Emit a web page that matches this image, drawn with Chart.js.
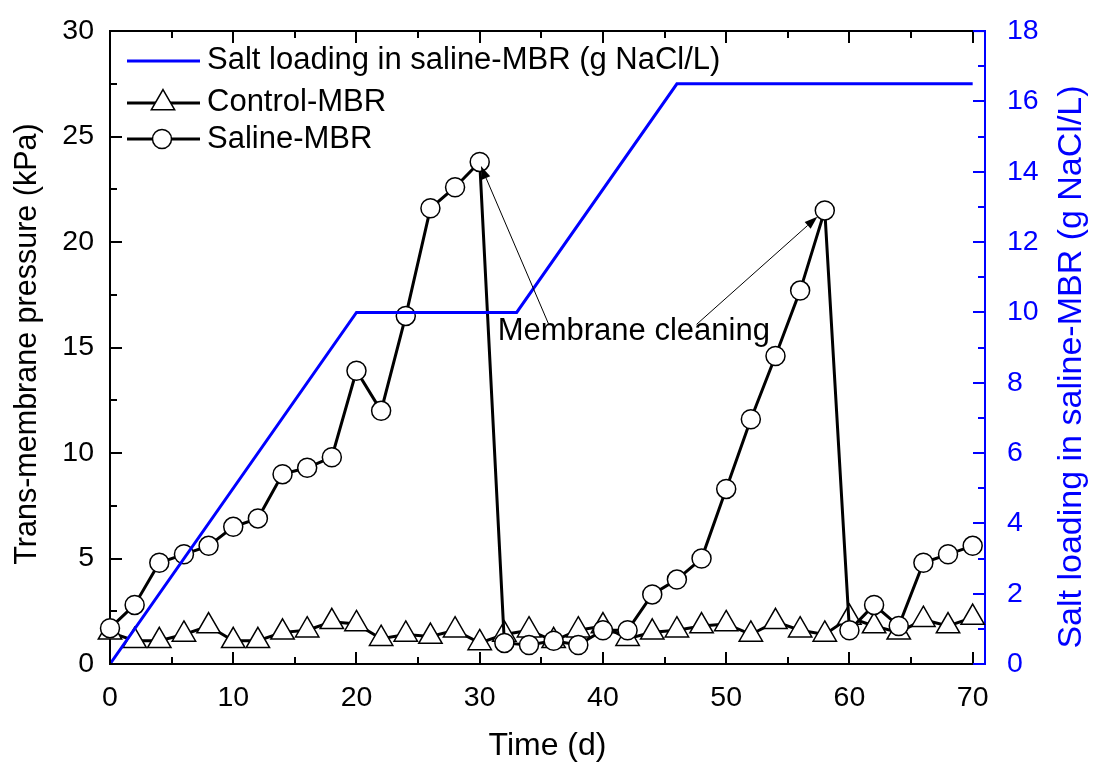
<!DOCTYPE html>
<html>
<head>
<meta charset="utf-8">
<script src="https://cdn.jsdelivr.net/npm/chart.js@4.4.1/dist/chart.umd.min.js"></script>
<style>
  html, body { margin: 0; padding: 0; background: #ffffff; }
  #wrap { width: 1097px; height: 776px; }
</style>
</head>
<body>
<div id="wrap"><canvas id="tmp" width="1097" height="776"></canvas></div>
<script>
// Sampling days (every 2 d)
const days = [0, 2, 4, 6, 8, 10, 12, 14, 16, 18, 20, 22, 24, 26, 28, 30, 32, 34,
              36, 38, 40, 42, 44, 46, 48, 50, 52, 54, 56, 58, 60, 62, 64, 66, 68, 70];

// Trans-membrane pressure, kPa
const controlTMP = [1.5, 1.1, 1.1, 1.4, 1.8, 1.1, 1.1, 1.5, 1.6, 2.0, 1.9, 1.2, 1.4, 1.3, 1.6, 1.0, 1.4, 1.6,
                    1.1, 1.6, 1.8, 1.2, 1.5, 1.6, 1.8, 1.9, 1.4, 2.0, 1.6, 1.4, 2.2, 1.8, 1.5, 2.1, 1.8, 2.2];
const salineTMP  = [1.7, 2.8, 4.8, 5.2, 5.6, 6.5, 6.9, 9.0, 9.3, 9.8, 13.9, 12.0, 16.5, 21.6, 22.6, 23.8, 1.0, 0.9,
                    1.1, 0.9, 1.6, 1.6, 3.3, 4.0, 5.0, 8.3, 11.6, 14.6, 17.7, 21.5, 1.6, 2.8, 1.8, 4.8, 5.2, 5.6];

// Salt loading schedule, g NaCl/L
const saltDays   = [0, 20, 33, 46, 70];
const saltLevels = [0, 10, 10, 16.5, 16.5];

// Axis tick settings
const xTickStep = 10;
const yTickStep = 5;
const y1TickStep = 2;

// Membrane cleaning note: label anchor and arrows [fromX, fromY, toX, toY] in data units
const cleaningLabel = { text: 'Membrane cleaning', x: 42.5, y: 15.35 };
const cleaningArrows = [
  [35.6, 16.1, 30.1, 23.6],
  [47.6, 16.1, 57.4, 21.2]
];

const FAMILY = '"Liberation Sans", Arial, sans-serif';
const BLUE = '#0000ff';

function drawTriangle(ctx, x, y, r) {
  ctx.beginPath();
  ctx.moveTo(x, y - r);
  ctx.lineTo(x + r * Math.sin(2 * Math.PI / 3), y + r * 0.5);
  ctx.lineTo(x - r * Math.sin(2 * Math.PI / 3), y + r * 0.5);
  ctx.closePath();
  ctx.fillStyle = '#fff';
  ctx.fill();
  ctx.stroke();
}

const decorations = {
  id: 'decorations',
  afterDraw(chart) {
    const { ctx, chartArea: a, scales } = chart;
    const xs = scales.x, ys = scales.y, y1s = scales.y1;
    ctx.save();

    // top frame line
    ctx.strokeStyle = '#000';
    ctx.lineWidth = 2;
    ctx.beginPath();
    ctx.moveTo(a.left, a.top);
    ctx.lineTo(a.right, a.top);
    ctx.stroke();

    // inward tick marks
    ctx.lineWidth = 2;
    for (let v = 0; v <= 70; v += 5) {
      const px = Math.round(xs.getPixelForValue(v));
      const len = v % 10 === 0 ? 12 : 7;
      ctx.beginPath();
      ctx.moveTo(px, a.bottom); ctx.lineTo(px, a.bottom - len);
      ctx.moveTo(px, a.top); ctx.lineTo(px, a.top + len);
      ctx.stroke();
    }
    for (let v = 0; v <= 30; v += 2.5) {
      const py = Math.round(ys.getPixelForValue(v));
      const len = v % 5 === 0 ? 12 : 7;
      ctx.beginPath();
      ctx.moveTo(a.left, py); ctx.lineTo(a.left + len, py);
      ctx.stroke();
    }
    ctx.strokeStyle = BLUE;
    for (let v = 0; v <= 18; v += 1) {
      const py = Math.round(y1s.getPixelForValue(v));
      const len = v % 2 === 0 ? 12 : 7;
      ctx.beginPath();
      ctx.moveTo(a.right, py); ctx.lineTo(a.right - len, py);
      ctx.stroke();
    }
    ctx.beginPath();
    ctx.moveTo(a.right - 12, a.top); ctx.lineTo(a.right, a.top);
    ctx.stroke();

    // vertical axis titles
    ctx.textAlign = 'center';
    ctx.textBaseline = 'middle';
    ctx.fillStyle = '#000';
    ctx.font = '30.5px ' + FAMILY;
    ctx.save();
    ctx.translate(28, 344);
    ctx.rotate(-Math.PI / 2);
    ctx.fillText('Trans-membrane pressure (kPa)', 0, 0);
    ctx.restore();
    ctx.fillStyle = BLUE;
    ctx.font = '34px ' + FAMILY;
    ctx.save();
    ctx.translate(1072, 367);
    ctx.rotate(-Math.PI / 2);
    ctx.fillText('Salt loading in saline-MBR (g NaCl/L)', 0, 0);
    ctx.restore();

    // legend
    const lx0 = 127, lx1 = 200, tx = 207;
    const rows = [61, 103, 139];
    ctx.font = '31px ' + FAMILY;
    ctx.textAlign = 'left';
    ctx.lineWidth = 3;
    ctx.strokeStyle = BLUE;
    ctx.beginPath(); ctx.moveTo(lx0, rows[0]); ctx.lineTo(lx1, rows[0]); ctx.stroke();
    ctx.strokeStyle = '#000';
    ctx.beginPath(); ctx.moveTo(lx0, rows[1]); ctx.lineTo(lx1, rows[1]); ctx.stroke();
    ctx.beginPath(); ctx.moveTo(lx0, rows[2]); ctx.lineTo(lx1, rows[2]); ctx.stroke();
    ctx.lineWidth = 1.5;
    drawTriangle(ctx, 163, rows[1], 13.5);
    ctx.beginPath(); ctx.arc(162, rows[2], 9.5, 0, Math.PI * 2);
    ctx.fillStyle = '#fff'; ctx.fill(); ctx.stroke();
    ctx.fillStyle = '#000';
    ctx.fillText('Salt loading in saline-MBR (g NaCl/L)', tx, rows[0] - 1);
    ctx.fillText('Control-MBR', tx, rows[1] - 1);
    ctx.fillText('Saline-MBR', tx, rows[2]);

    // membrane cleaning note
    ctx.font = '31px ' + FAMILY;
    ctx.textAlign = 'center';
    ctx.textBaseline = 'alphabetic';
    ctx.fillText(cleaningLabel.text, xs.getPixelForValue(cleaningLabel.x), ys.getPixelForValue(cleaningLabel.y));
    ctx.lineWidth = 1;
    ctx.strokeStyle = '#000';
    cleaningArrows.forEach(([fx, fy, tx2, ty2]) => {
      const x0 = xs.getPixelForValue(fx), y0 = ys.getPixelForValue(fy);
      const x1 = xs.getPixelForValue(tx2), y1 = ys.getPixelForValue(ty2);
      const ang = Math.atan2(y1 - y0, x1 - x0);
      const hl = 13, hw = 4.5;
      ctx.beginPath(); ctx.moveTo(x0, y0);
      ctx.lineTo(x1 - Math.cos(ang) * hl, y1 - Math.sin(ang) * hl);
      ctx.stroke();
      ctx.beginPath();
      ctx.moveTo(x1, y1);
      ctx.lineTo(x1 - Math.cos(ang) * hl - Math.sin(ang) * hw, y1 - Math.sin(ang) * hl + Math.cos(ang) * hw);
      ctx.lineTo(x1 - Math.cos(ang) * hl + Math.sin(ang) * hw, y1 - Math.sin(ang) * hl - Math.cos(ang) * hw);
      ctx.closePath();
      ctx.fill();
    });

    ctx.restore();
  }
};

const tickFont = { family: FAMILY, size: 28.5 };

new Chart(document.getElementById('tmp'), {
  type: 'line',
  data: {
    datasets: [
      {
        label: 'Salt loading in saline-MBR (g NaCl/L)',
        data: saltDays.map((d, i) => ({ x: d, y: saltLevels[i] })),
        yAxisID: 'y1',
        borderColor: BLUE,
        borderWidth: 3,
        pointRadius: 0,
        tension: 0,
        fill: false
      },
      {
        label: 'Saline-MBR',
        data: days.map((d, i) => ({ x: d, y: salineTMP[i] })),
        yAxisID: 'y',
        borderColor: '#000',
        borderWidth: 3,
        pointStyle: 'circle',
        pointRadius: 9.5,
        pointBackgroundColor: '#fff',
        pointBorderColor: '#000',
        pointBorderWidth: 1.5,
        tension: 0,
        clip: false
      },
      {
        label: 'Control-MBR',
        data: days.map((d, i) => ({ x: d, y: controlTMP[i] })),
        yAxisID: 'y',
        borderColor: '#000',
        borderWidth: 3,
        pointStyle: 'triangle',
        pointRadius: 13.5,
        pointBackgroundColor: '#fff',
        pointBorderColor: '#000',
        pointBorderWidth: 1.5,
        tension: 0,
        clip: false
      }
    ]
  },
  options: {
    responsive: false,
    animation: false,
    devicePixelRatio: 1,
    layout: { padding: { top: 24, left: 0, right: 0, bottom: 0 } },
    plugins: { legend: { display: false }, tooltip: { enabled: false } },
    scales: {
      x: {
        type: 'linear',
        position: 'bottom',
        min: 0,
        max: 71,
        afterFit(s) { s.height = 112; },
        ticks: { stepSize: xTickStep, includeBounds: false, color: '#000', font: tickFont, padding: 9, maxRotation: 0 },
        grid: { display: false },
        border: { display: true, color: '#000', width: 2 },
        title: { display: true, text: 'Time (d)', color: '#000', font: { family: FAMILY, size: 32 }, padding: { top: 0, bottom: 11 } }
      },
      y: {
        type: 'linear',
        position: 'left',
        min: 0,
        max: 30,
        afterFit(s) { s.width = 110; },
        ticks: { stepSize: yTickStep, color: '#000', font: tickFont, padding: 8 },
        grid: { display: false },
        border: { display: true, color: '#000', width: 2 }
      },
      y1: {
        type: 'linear',
        position: 'right',
        min: 0,
        max: 18,
        afterFit(s) { s.width = 112; },
        ticks: { stepSize: y1TickStep, color: BLUE, font: tickFont, padding: 14 },
        grid: { display: false },
        border: { display: true, color: BLUE, width: 2 }
      }
    }
  },
  plugins: [decorations]
});
</script>
</body>
</html>
